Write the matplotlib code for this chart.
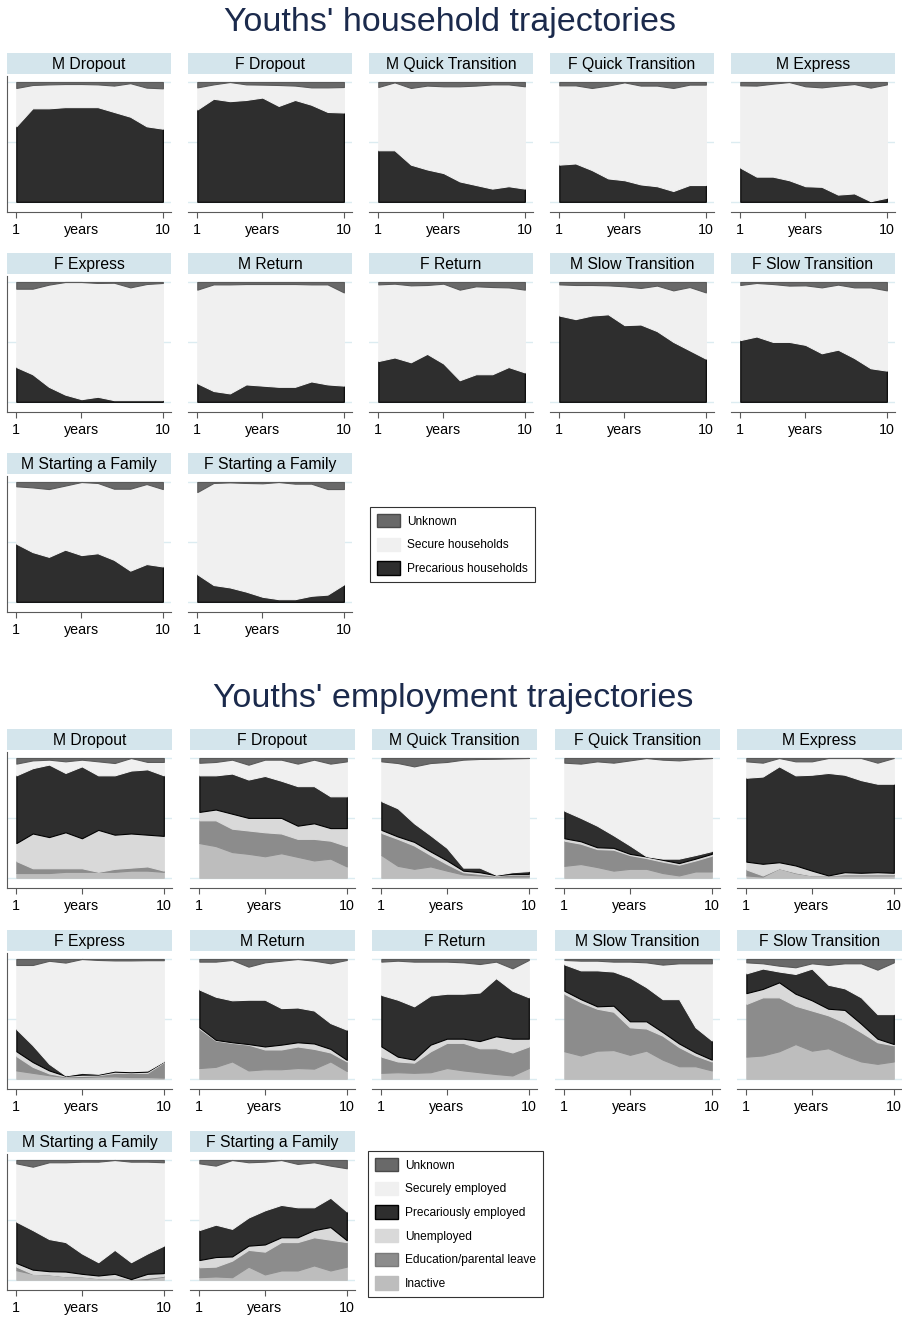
import numpy as np
import matplotlib
matplotlib.use("Agg")
import matplotlib.pyplot as plt
from matplotlib.patches import Patch

plt.rcParams["font.family"] = ["Liberation Sans", "DejaVu Sans"]

W, H = 903, 1318
years = np.arange(1, 11)

panel_names = [
    "M Dropout", "F Dropout", "M Quick Transition", "F Quick Transition", "M Express",
    "F Express", "M Return", "F Return", "M Slow Transition", "F Slow Transition",
    "M Starting a Family", "F Starting a Family",
]

# ---- household trajectories: share precarious / share unknown (rest = secure)
hh_precarious = {
    "M Dropout": [0.63, 0.78, 0.78, 0.79, 0.79, 0.79, 0.75, 0.71, 0.63, 0.61],
    "F Dropout": [0.77, 0.86, 0.84, 0.85, 0.87, 0.80, 0.85, 0.81, 0.75, 0.745],
    "M Quick Transition": [0.43, 0.43, 0.31, 0.27, 0.24, 0.17, 0.14, 0.11, 0.13, 0.11],
    "F Quick Transition": [0.31, 0.32, 0.265, 0.195, 0.18, 0.145, 0.13, 0.09, 0.14, 0.14],
    "M Express": [0.285, 0.21, 0.21, 0.18, 0.13, 0.125, 0.06, 0.07, 0.005, 0.034],
    "F Express": [0.29, 0.23, 0.125, 0.06, 0.022, 0.042, 0.014, 0.014, 0.014, 0.014],
    "M Return": [0.155, 0.09, 0.07, 0.145, 0.135, 0.125, 0.125, 0.17, 0.145, 0.135],
    "F Return": [0.34, 0.37, 0.33, 0.40, 0.32, 0.18, 0.23, 0.23, 0.29, 0.245],
    "M Slow Transition": [0.72, 0.69, 0.72, 0.73, 0.64, 0.645, 0.59, 0.50, 0.43, 0.36],
    "F Slow Transition": [0.515, 0.545, 0.50, 0.50, 0.475, 0.405, 0.435, 0.365, 0.28, 0.26],
    "M Starting a Family": [0.485, 0.415, 0.375, 0.435, 0.39, 0.405, 0.35, 0.26, 0.315, 0.295],
    "F Starting a Family": [0.23, 0.14, 0.12, 0.085, 0.042, 0.022, 0.022, 0.05, 0.06, 0.145],
}
hh_unknown = {
    "M Dropout": [0.05, 0.025, 0.02, 0.017, 0.017, 0.02, 0.03, 0.01, 0.047, 0.053],
    "F Dropout": [0.045, 0.02, 0.0, 0.02, 0.022, 0.025, 0.03, 0.045, 0.045, 0.042],
    "M Quick Transition": [0.042, 0.003, 0.05, 0.03, 0.036, 0.036, 0.03, 0.02, 0.02, 0.036],
    "F Quick Transition": [0.028, 0.028, 0.05, 0.03, 0.003, 0.03, 0.03, 0.05, 0.022, 0.022],
    "M Express": [0.028, 0.03, 0.014, 0.0, 0.036, 0.045, 0.03, 0.017, 0.047, 0.02],
    "F Express": [0.056, 0.056, 0.022, 0.0, 0.0, 0.008, 0.006, 0.045, 0.017, 0.008],
    "M Return": [0.064, 0.02, 0.02, 0.017, 0.017, 0.017, 0.017, 0.02, 0.02, 0.087],
    "F Return": [0.02, 0.014, 0.028, 0.025, 0.014, 0.064, 0.036, 0.042, 0.045, 0.064],
    "M Slow Transition": [0.02, 0.025, 0.025, 0.028, 0.036, 0.05, 0.03, 0.07, 0.042, 0.087],
    "F Slow Transition": [0.025, 0.008, 0.017, 0.03, 0.028, 0.045, 0.022, 0.045, 0.045, 0.07],
    "M Starting a Family": [0.036, 0.045, 0.059, 0.03, 0.0, 0.008, 0.056, 0.056, 0.017, 0.059],
    "F Starting a Family": [0.084, 0.008, 0.003, 0.008, 0.011, 0.0, 0.014, 0.014, 0.059, 0.059],
}

# ---- employment trajectories: cumulative shares from the bottom
# (inactive, +education, +unemployed, +precarious), plus share unknown
emp_inactive = {
    "M Dropout": [0.04, 0.04, 0.04, 0.05, 0.05, 0.05, 0.05, 0.06, 0.06, 0.05],
    "F Dropout": [0.29, 0.265, 0.215, 0.20, 0.18, 0.205, 0.175, 0.145, 0.16, 0.095],
    "M Quick Transition": [0.19, 0.10, 0.075, 0.095, 0.06, 0.028, 0.02, 0.011, 0.011, 0.011],
    "F Quick Transition": [0.10, 0.115, 0.09, 0.06, 0.075, 0.075, 0.04, 0.02, 0.053, 0.053],
    "M Express": [0.02, 0.01, 0.08, 0.04, 0.02, 0.02, 0.02, 0.02, 0.02, 0.02],
    "F Express": [0.07, 0.05, 0.03, 0.015, 0.015, 0.02, 0.02, 0.015, 0.015, 0.01],
    "M Return": [0.09, 0.10, 0.145, 0.07, 0.08, 0.08, 0.09, 0.085, 0.145, 0.065],
    "F Return": [0.05, 0.055, 0.05, 0.055, 0.09, 0.07, 0.055, 0.04, 0.028, 0.09],
    "M Slow Transition": [0.23, 0.195, 0.235, 0.24, 0.20, 0.235, 0.16, 0.105, 0.105, 0.07],
    "F Slow Transition": [0.185, 0.195, 0.23, 0.29, 0.235, 0.255, 0.195, 0.145, 0.125, 0.145],
    "M Starting a Family": [0.08, 0.05, 0.045, 0.03, 0.028, 0.014, 0.017, 0.006, 0.006, 0.028],
    "F Starting a Family": [0.022, 0.028, 0.022, 0.11, 0.045, 0.078, 0.078, 0.12, 0.078, 0.11],
}
emp_education_cum = {
    "M Dropout": [0.14, 0.08, 0.08, 0.08, 0.08, 0.05, 0.075, 0.085, 0.095, 0.06],
    "F Dropout": [0.48, 0.48, 0.41, 0.395, 0.38, 0.37, 0.325, 0.325, 0.31, 0.265],
    "M Quick Transition": [0.375, 0.325, 0.27, 0.19, 0.115, 0.047, 0.033, 0.017, 0.028, 0.028],
    "F Quick Transition": [0.31, 0.285, 0.24, 0.235, 0.19, 0.165, 0.135, 0.11, 0.145, 0.185],
    "M Express": [0.07, 0.02, 0.08, 0.045, 0.02, 0.02, 0.03, 0.03, 0.03, 0.03],
    "F Express": [0.19, 0.10, 0.045, 0.02, 0.025, 0.03, 0.05, 0.05, 0.05, 0.14],
    "M Return": [0.42, 0.32, 0.30, 0.285, 0.245, 0.245, 0.27, 0.25, 0.22, 0.145],
    "F Return": [0.185, 0.145, 0.135, 0.23, 0.30, 0.30, 0.255, 0.255, 0.22, 0.27],
    "M Slow Transition": [0.71, 0.64, 0.585, 0.56, 0.43, 0.42, 0.36, 0.265, 0.195, 0.145],
    "F Slow Transition": [0.625, 0.68, 0.68, 0.61, 0.57, 0.53, 0.47, 0.39, 0.305, 0.28],
    "M Starting a Family": [0.11, 0.05, 0.045, 0.03, 0.028, 0.014, 0.017, 0.006, 0.017, 0.033],
    "F Starting a Family": [0.105, 0.11, 0.16, 0.25, 0.235, 0.315, 0.315, 0.355, 0.335, 0.315],
}
emp_unemployed_cum = {
    "M Dropout": [0.29, 0.37, 0.34, 0.38, 0.33, 0.40, 0.36, 0.37, 0.36, 0.35],
    "F Dropout": [0.55, 0.57, 0.535, 0.50, 0.50, 0.50, 0.435, 0.455, 0.415, 0.415],
    "M Quick Transition": [0.40, 0.345, 0.30, 0.22, 0.145, 0.06, 0.047, 0.022, 0.033, 0.033],
    "F Quick Transition": [0.33, 0.305, 0.255, 0.25, 0.20, 0.178, 0.15, 0.123, 0.16, 0.20],
    "M Express": [0.135, 0.117, 0.13, 0.103, 0.06, 0.02, 0.047, 0.042, 0.047, 0.042],
    "F Express": [0.23, 0.14, 0.07, 0.025, 0.035, 0.035, 0.06, 0.055, 0.06, 0.145],
    "M Return": [0.43, 0.325, 0.305, 0.29, 0.27, 0.285, 0.305, 0.295, 0.25, 0.158],
    "F Return": [0.27, 0.185, 0.16, 0.285, 0.335, 0.335, 0.315, 0.355, 0.335, 0.335],
    "M Slow Transition": [0.735, 0.665, 0.605, 0.61, 0.48, 0.48, 0.39, 0.295, 0.22, 0.16],
    "F Slow Transition": [0.715, 0.75, 0.805, 0.71, 0.655, 0.585, 0.575, 0.46, 0.335, 0.29],
    "M Starting a Family": [0.14, 0.085, 0.072, 0.069, 0.05, 0.036, 0.05, 0.006, 0.05, 0.056],
    "F Starting a Family": [0.165, 0.19, 0.195, 0.285, 0.295, 0.355, 0.355, 0.415, 0.44, 0.33],
}
emp_precarious_cum = {
    "M Dropout": [0.855, 0.915, 0.945, 0.875, 0.93, 0.855, 0.855, 0.895, 0.905, 0.855],
    "F Dropout": [0.855, 0.855, 0.87, 0.82, 0.85, 0.81, 0.765, 0.765, 0.68, 0.68],
    "M Quick Transition": [0.64, 0.58, 0.455, 0.355, 0.25, 0.085, 0.085, 0.025, 0.047, 0.056],
    "F Quick Transition": [0.56, 0.50, 0.435, 0.355, 0.27, 0.18, 0.16, 0.16, 0.19, 0.223],
    "M Express": [0.835, 0.845, 0.93, 0.855, 0.86, 0.875, 0.86, 0.815, 0.785, 0.785],
    "F Express": [0.415, 0.28, 0.125, 0.028, 0.05, 0.042, 0.069, 0.064, 0.069, 0.147],
    "M Return": [0.745, 0.685, 0.655, 0.66, 0.66, 0.59, 0.595, 0.57, 0.465, 0.41],
    "F Return": [0.70, 0.66, 0.605, 0.695, 0.71, 0.71, 0.72, 0.84, 0.735, 0.68],
    "M Slow Transition": [0.955, 0.905, 0.905, 0.895, 0.845, 0.765, 0.665, 0.665, 0.43, 0.32],
    "F Slow Transition": [0.88, 0.92, 0.895, 0.875, 0.92, 0.785, 0.755, 0.68, 0.54, 0.54],
    "M Starting a Family": [0.485, 0.415, 0.34, 0.315, 0.22, 0.147, 0.25, 0.147, 0.22, 0.285],
    "F Starting a Family": [0.415, 0.46, 0.425, 0.52, 0.58, 0.625, 0.605, 0.605, 0.685, 0.57],
}
emp_unknown = {
    "M Dropout": [0.047, 0.02, 0.014, 0.028, 0.014, 0.028, 0.042, 0.0, 0.033, 0.033],
    "F Dropout": [0.04, 0.033, 0.014, 0.056, 0.014, 0.014, 0.047, 0.014, 0.047, 0.028],
    "M Quick Transition": [0.028, 0.042, 0.07, 0.042, 0.033, 0.014, 0.008, 0.006, 0.003, 0.0],
    "F Quick Transition": [0.039, 0.047, 0.028, 0.039, 0.02, 0.0, 0.014, 0.02, 0.008, 0.0],
    "M Express": [0.028, 0.039, 0.0, 0.028, 0.028, 0.0, 0.0, 0.0, 0.039, 0.0],
    "F Express": [0.05, 0.05, 0.015, 0.03, 0.0, 0.008, 0.012, 0.012, 0.01, 0.01],
    "M Return": [0.022, 0.022, 0.008, 0.064, 0.028, 0.014, 0.0, 0.014, 0.036, 0.008],
    "F Return": [0.022, 0.014, 0.022, 0.022, 0.022, 0.028, 0.042, 0.022, 0.078, 0.008],
    "M Slow Transition": [0.008, 0.014, 0.014, 0.022, 0.022, 0.028, 0.047, 0.036, 0.036, 0.036],
    "F Slow Transition": [0.028, 0.036, 0.056, 0.069, 0.036, 0.05, 0.036, 0.036, 0.089, 0.028],
    "M Starting a Family": [0.028, 0.056, 0.019, 0.019, 0.014, 0.014, 0.0, 0.014, 0.014, 0.019],
    "F Starting a Family": [0.028, 0.047, 0.0, 0.019, 0.014, 0.0, 0.033, 0.019, 0.047, 0.069],
}

hh_labels = ["Unknown", "Secure households", "Precarious households"]
emp_labels = ["Unknown", "Securely employed", "Precariously employed",
              "Unemployed", "Education/parental leave", "Inactive"]

C_UNKNOWN = "#696969"
C_SECURE = "#f0f0f0"
C_PREC = "#2e2e2e"
C_UNEMP = "#d9d9d9"
C_EDU = "#8c8c8c"
C_INACT = "#bdbdbd"
STRIP = "#d4e5ec"
GRID = "#dcecf1"
AXC = "#5a5a5a"
TITLE_C = "#1b2a4c"


def box(left, top, width, height):
    return [left / W, 1 - (top + height) / H, width / W, height / H]


def panel(fig, left, top, width, name, first_col):
    hax = fig.add_axes(box(left, top, width, 21))
    hax.set_facecolor(STRIP)
    for s in hax.spines.values():
        s.set_visible(False)
    hax.set_xticks([])
    hax.set_yticks([])
    hax.text(0.5, 0.47, name, ha="center", va="center", fontsize=11.3,
             transform=hax.transAxes)

    ax = fig.add_axes(box(left, top + 23, width, 136))
    ax.set_xlim(0.43, 10.5)
    ax.set_ylim(-0.085, 1.05)
    ax.set_yticks([0, 0.5, 1])
    ax.set_yticklabels([])
    ax.tick_params(axis="y", length=0)
    ax.grid(axis="y", color=GRID, lw=1.0)
    ax.set_axisbelow(True)
    ax.set_xticks([1, 5, 10])
    ax.set_xticklabels(["1", "years", "10"])
    ax.tick_params(axis="x", length=4, color=AXC, labelsize=10.3, pad=4)
    for s in ["top", "right"]:
        ax.spines[s].set_visible(False)
    ax.spines["bottom"].set_color(AXC)
    ax.spines["left"].set_color(AXC)
    ax.spines["left"].set_visible(first_col)
    return ax


def style_stack(polys, colors, edge_colors):
    for p, c, e in zip(polys, colors, edge_colors):
        p.set_facecolor(c)
        p.set_edgecolor(e)
        p.set_linewidth(0.8)


def add_legend(fig, handles, labels, left, top):
    leg = fig.legend(handles, labels, loc="upper left",
                     bbox_to_anchor=(left / W, 1 - top / H),
                     frameon=True, fancybox=False, edgecolor="black", fontsize=8.6,
                     handlelength=1.9, handleheight=1.3, labelspacing=0.85,
                     borderpad=0.6, borderaxespad=0, handletextpad=0.6)
    leg.get_frame().set_linewidth(0.8)
    return leg


fig = plt.figure(figsize=(W / 100, H / 100), dpi=100)

# ---------- household section
fig.text(450 / W, 1 - 22 / H, "Youths' household trajectories", ha="center",
         va="center", fontsize=24.5, color=TITLE_C)

hh_cols = [7, 188, 369, 550, 731]
hh_rows = [53, 253, 453]
for i, name in enumerate(panel_names):
    r, c = divmod(i, 5)
    ax = panel(fig, hh_cols[c], hh_rows[r], 164, name, c == 0)
    p = np.array(hh_precarious[name])
    u = np.array(hh_unknown[name])
    s = 1 - p - u
    polys = ax.stackplot(years, p, s, u)
    style_stack(polys, [C_PREC, C_SECURE, C_UNKNOWN], ["black", C_SECURE, "#5a5a5a"])

hh_handles = [Patch(fc=C_UNKNOWN, ec="#4a4a4a"), Patch(fc=C_SECURE, ec=C_SECURE),
              Patch(fc=C_PREC, ec="black")]
add_legend(fig, hh_handles, hh_labels, 370, 507)

# ---------- employment section
fig.text(453 / W, 1 - 698 / H, "Youths' employment trajectories", ha="center",
         va="center", fontsize=24.5, color=TITLE_C)

emp_cols = [7, 190, 372, 555, 737]
emp_rows = [729, 930, 1131]
for i, name in enumerate(panel_names):
    r, c = divmod(i, 5)
    ax = panel(fig, emp_cols[c], emp_rows[r], 165, name, c == 0)
    bounds = np.vstack([
        np.zeros(10),
        emp_inactive[name],
        emp_education_cum[name],
        emp_unemployed_cum[name],
        emp_precarious_cum[name],
        1 - np.array(emp_unknown[name]),
        np.ones(10),
    ])
    shares = np.clip(np.diff(bounds, axis=0), 0, None)
    polys = ax.stackplot(years, *shares)
    style_stack(polys,
                [C_INACT, C_EDU, C_UNEMP, C_PREC, C_SECURE, C_UNKNOWN],
                [C_INACT, C_EDU, C_UNEMP, "black", C_SECURE, "#5a5a5a"])

emp_handles = [Patch(fc=C_UNKNOWN, ec="#4a4a4a"), Patch(fc=C_SECURE, ec=C_SECURE),
               Patch(fc=C_PREC, ec="black"), Patch(fc=C_UNEMP, ec=C_UNEMP),
               Patch(fc=C_EDU, ec="#7a7a7a"), Patch(fc=C_INACT, ec=C_INACT)]
add_legend(fig, emp_handles, emp_labels, 368, 1151)

fig.savefig("out.png", dpi=100)
